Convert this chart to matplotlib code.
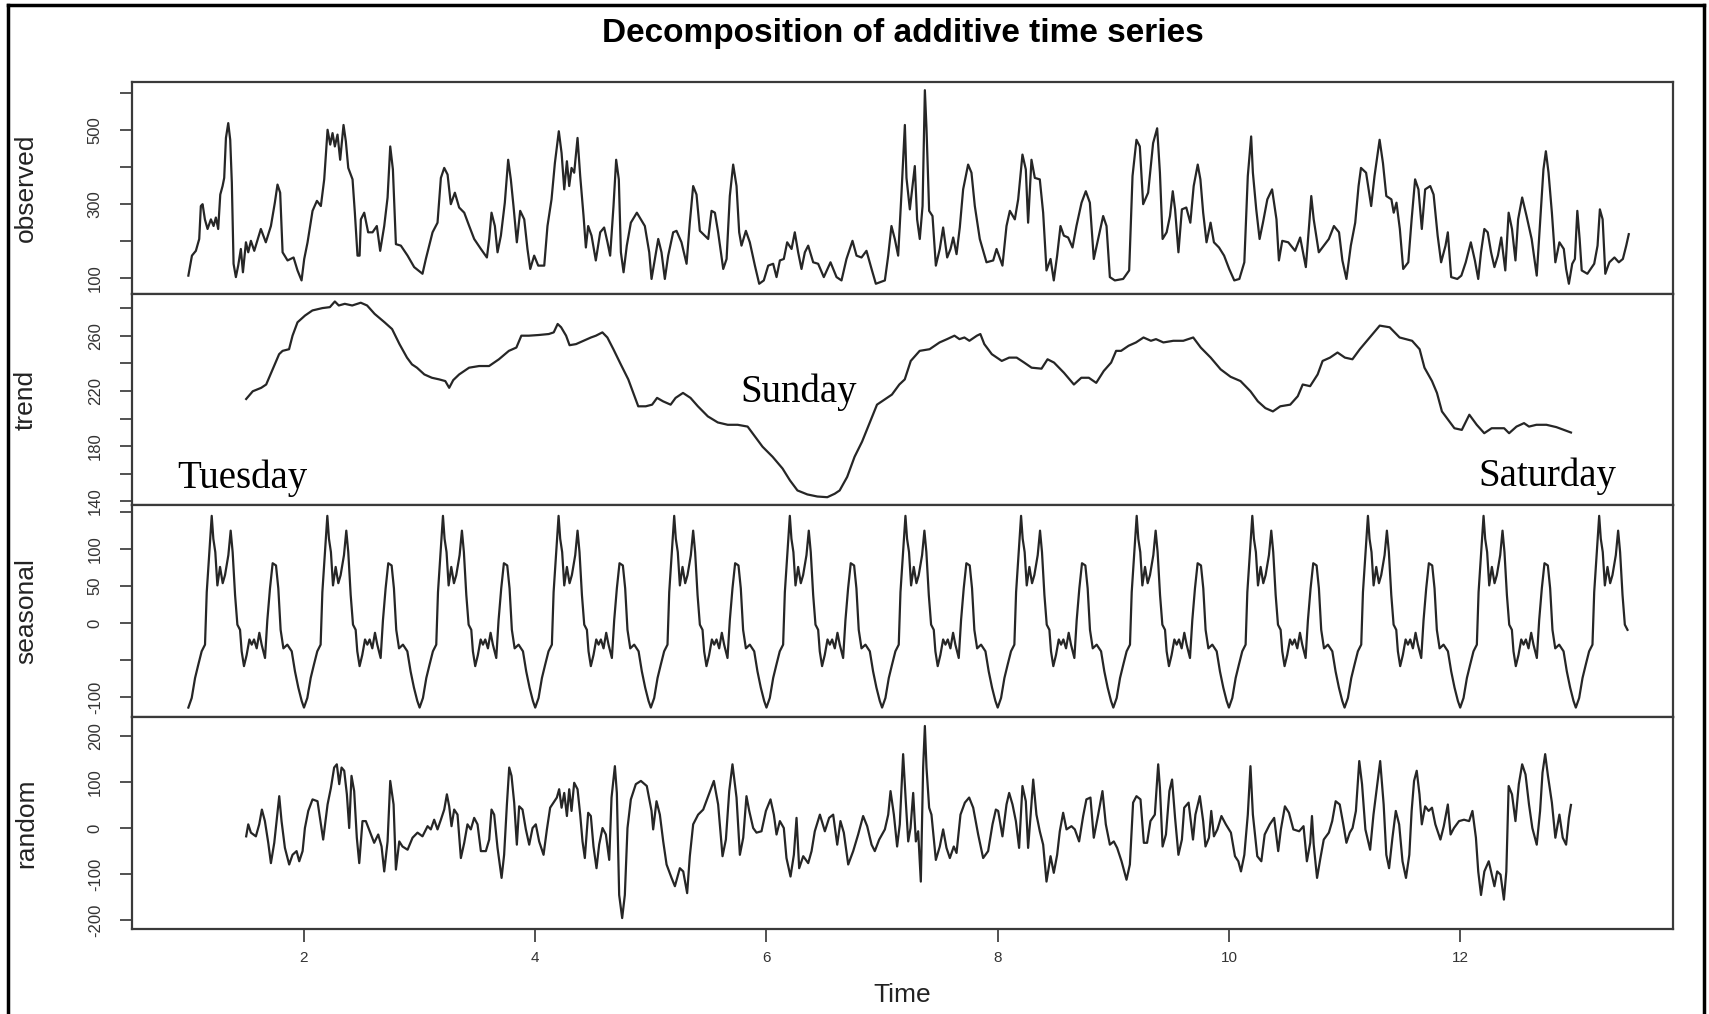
import numpy as np
import matplotlib.pyplot as plt
from matplotlib.lines import Line2D

# values: (time, value) vertices of each line
obs_points = [
    (1.000, 106), (1.031, 160), (1.065, 173), (1.094, 205), (1.108, 294), (1.123, 299), (1.143, 258),
    (1.166, 232), (1.195, 258), (1.218, 240), (1.238, 263), (1.258, 232), (1.276, 325), (1.296, 348),
    (1.310, 370), (1.325, 478), (1.345, 518), (1.362, 473), (1.376, 357), (1.391, 138), (1.411, 102),
    (1.431, 133), (1.454, 178), (1.472, 115), (1.498, 196), (1.518, 169), (1.541, 200), (1.570, 173),
    (1.627, 232), (1.670, 196), (1.714, 240), (1.748, 303), (1.771, 352), (1.794, 330), (1.815, 169),
    (1.858, 147), (1.910, 155), (1.944, 120), (1.979, 93), (2.002, 151), (2.031, 196), (2.074, 281),
    (2.112, 308), (2.146, 294), (2.175, 366), (2.204, 500), (2.227, 460), (2.247, 491), (2.267, 455),
    (2.290, 487), (2.313, 419), (2.342, 513), (2.362, 469), (2.383, 397), (2.420, 366), (2.440, 276),
    (2.463, 160), (2.481, 160), (2.492, 258), (2.521, 276), (2.555, 223), (2.593, 223), (2.630, 240),
    (2.659, 173), (2.694, 240), (2.723, 317), (2.746, 455), (2.769, 393), (2.795, 191), (2.838, 187),
    (2.896, 160), (2.953, 129), (3.025, 111), (3.054, 151), (3.112, 223), (3.155, 249), (3.184, 370),
    (3.213, 397), (3.242, 379), (3.270, 299), (3.305, 330), (3.342, 290), (3.386, 276), (3.429, 240),
    (3.472, 205), (3.530, 178), (3.582, 155), (3.602, 205), (3.622, 276), (3.651, 240), (3.674, 169),
    (3.703, 214), (3.737, 303), (3.766, 419), (3.789, 366), (3.812, 294), (3.841, 196), (3.870, 281),
    (3.905, 258), (3.933, 178), (3.957, 124), (3.991, 160), (4.026, 133), (4.078, 133), (4.106, 240),
    (4.141, 312), (4.170, 410), (4.204, 496), (4.228, 437), (4.251, 339), (4.274, 415), (4.294, 348),
    (4.314, 397), (4.337, 384), (4.366, 478), (4.389, 375), (4.418, 267), (4.438, 182), (4.458, 240),
    (4.487, 214), (4.524, 147), (4.562, 223), (4.596, 236), (4.625, 196), (4.648, 160), (4.677, 294),
    (4.700, 419), (4.723, 366), (4.741, 169), (4.764, 115), (4.792, 187), (4.827, 249), (4.879, 276),
    (4.948, 240), (4.986, 169), (5.006, 97), (5.035, 151), (5.064, 205), (5.092, 169), (5.121, 97),
    (5.150, 160), (5.193, 223), (5.222, 227), (5.265, 196), (5.309, 138), (5.337, 249), (5.366, 348),
    (5.395, 325), (5.424, 227), (5.467, 214), (5.496, 205), (5.525, 281), (5.554, 276), (5.582, 223),
    (5.626, 124), (5.655, 151), (5.683, 321), (5.712, 406), (5.741, 348), (5.764, 223), (5.784, 187),
    (5.822, 227), (5.856, 196), (5.900, 133), (5.937, 84), (5.977, 93), (6.015, 133), (6.058, 138),
    (6.087, 102), (6.116, 147), (6.150, 151), (6.179, 196), (6.217, 178), (6.245, 223), (6.274, 169),
    (6.303, 124), (6.332, 169), (6.361, 187), (6.404, 142), (6.447, 138), (6.496, 102), (6.554, 142),
    (6.606, 102), (6.649, 93), (6.692, 151), (6.744, 200), (6.779, 160), (6.822, 155), (6.865, 173),
    (6.909, 124), (6.946, 84), (7.024, 93), (7.053, 160), (7.081, 240), (7.110, 205), (7.139, 160),
    (7.168, 330), (7.197, 513), (7.211, 370), (7.240, 285), (7.263, 348), (7.283, 402), (7.303, 258),
    (7.326, 205), (7.350, 294), (7.370, 607), (7.384, 504), (7.407, 281), (7.436, 267), (7.465, 133),
    (7.499, 178), (7.528, 236), (7.563, 155), (7.592, 178), (7.615, 209), (7.644, 164), (7.672, 236),
    (7.701, 339), (7.744, 406), (7.773, 384), (7.802, 294), (7.845, 205), (7.903, 142), (7.961, 147),
    (7.990, 178), (8.041, 133), (8.076, 240), (8.105, 281), (8.148, 258), (8.177, 312), (8.214, 433),
    (8.243, 393), (8.263, 249), (8.292, 419), (8.321, 370), (8.364, 366), (8.393, 276), (8.422, 120),
    (8.457, 151), (8.485, 93), (8.514, 160), (8.543, 240), (8.572, 214), (8.609, 209), (8.647, 182),
    (8.681, 240), (8.725, 303), (8.762, 334), (8.797, 303), (8.831, 151), (8.869, 205), (8.912, 267),
    (8.941, 240), (8.970, 102), (9.013, 93), (9.085, 97), (9.137, 120), (9.166, 375), (9.200, 473),
    (9.229, 455), (9.258, 299), (9.301, 330), (9.344, 464), (9.379, 504), (9.403, 384), (9.426, 205),
    (9.461, 223), (9.490, 267), (9.514, 334), (9.534, 285), (9.563, 169), (9.593, 285), (9.631, 290),
    (9.666, 249), (9.695, 348), (9.730, 406), (9.753, 366), (9.777, 276), (9.806, 196), (9.841, 249),
    (9.870, 196), (9.914, 182), (9.958, 160), (10.002, 124), (10.046, 93), (10.090, 97), (10.133, 142),
    (10.163, 375), (10.192, 482), (10.207, 384), (10.236, 285), (10.265, 205), (10.294, 249),
    (10.332, 312), (10.373, 339), (10.411, 258), (10.432, 147), (10.461, 200), (10.513, 196),
    (10.572, 173), (10.616, 209), (10.665, 129), (10.695, 249), (10.712, 321), (10.733, 258),
    (10.777, 169), (10.820, 187), (10.864, 205), (10.908, 240), (10.952, 223), (10.981, 147),
    (11.016, 97), (11.054, 187), (11.092, 249), (11.121, 348), (11.142, 397), (11.186, 384),
    (11.230, 294), (11.259, 375), (11.303, 473), (11.332, 410), (11.361, 321), (11.405, 312),
    (11.425, 276), (11.449, 303), (11.478, 232), (11.507, 124), (11.551, 142), (11.580, 258),
    (11.610, 366), (11.639, 339), (11.668, 232), (11.697, 339), (11.741, 348), (11.770, 325),
    (11.805, 214), (11.835, 142), (11.873, 187), (11.893, 223), (11.922, 102), (11.975, 97),
    (12.010, 106), (12.048, 142), (12.092, 196), (12.127, 147), (12.156, 97), (12.180, 169),
    (12.209, 232), (12.238, 223), (12.267, 169), (12.296, 129), (12.326, 160), (12.355, 209),
    (12.390, 120), (12.419, 276), (12.448, 232), (12.478, 147), (12.501, 258), (12.536, 317),
    (12.574, 267), (12.618, 205), (12.662, 106), (12.700, 294), (12.720, 393), (12.741, 442),
    (12.764, 384), (12.793, 276), (12.823, 142), (12.858, 196), (12.896, 178), (12.916, 124),
    (12.940, 84), (12.969, 138), (12.992, 151), (13.013, 281), (13.033, 205), (13.051, 120),
    (13.100, 111), (13.159, 138), (13.188, 187), (13.208, 285), (13.232, 258), (13.255, 111),
    (13.290, 142), (13.334, 155), (13.372, 142), (13.407, 151), (13.436, 187), (13.458, 218),
]

trend_points = [
    (1.500, 214.2), (1.557, 219.8), (1.630, 222.3), (1.673, 224.7), (1.729, 235.7), (1.785, 246.7),
    (1.815, 249.1), (1.871, 250.3), (1.901, 260.1), (1.944, 269.8), (2.009, 274.7), (2.073, 278.4),
    (2.159, 280.1), (2.224, 280.8), (2.267, 284.9), (2.301, 282.0), (2.353, 283.2), (2.417, 282.0),
    (2.491, 284.0), (2.546, 282.0), (2.611, 275.9), (2.697, 269.8), (2.762, 264.9), (2.826, 254.0),
    (2.891, 244.2), (2.934, 239.3), (2.977, 236.9), (3.041, 232.0), (3.106, 229.6), (3.170, 228.4),
    (3.222, 227.2), (3.256, 222.3), (3.291, 227.9), (3.342, 232.0), (3.428, 236.9), (3.515, 238.1),
    (3.601, 238.1), (3.686, 243.0), (3.772, 249.1), (3.837, 251.5), (3.880, 260.1), (3.945, 260.1),
    (4.031, 260.6), (4.117, 261.3), (4.160, 262.5), (4.194, 268.6), (4.224, 266.2), (4.267, 260.1),
    (4.297, 253.2), (4.353, 254.0), (4.418, 256.4), (4.482, 258.8), (4.525, 260.1), (4.581, 262.5),
    (4.624, 258.8), (4.676, 250.3), (4.740, 239.3), (4.805, 228.4), (4.848, 218.6), (4.891, 208.9),
    (4.956, 208.9), (5.011, 210.1), (5.054, 215.0), (5.106, 212.5), (5.171, 210.1), (5.214, 215.0),
    (5.278, 218.6), (5.343, 215.0), (5.407, 208.9), (5.493, 201.6), (5.579, 197.2), (5.665, 195.5),
    (5.751, 195.5), (5.837, 194.2), (5.902, 186.9), (5.966, 179.6), (6.053, 172.3), (6.139, 163.8),
    (6.203, 155.2), (6.268, 147.9), (6.354, 145.0), (6.440, 143.5), (6.526, 143.0), (6.590, 145.5),
    (6.633, 147.9), (6.698, 157.7), (6.762, 172.3), (6.827, 183.3), (6.891, 196.7), (6.956, 210.1),
    (7.020, 213.7), (7.085, 217.4), (7.149, 224.7), (7.196, 228.4), (7.248, 241.8), (7.325, 249.1),
    (7.411, 250.3), (7.497, 255.2), (7.562, 257.6), (7.626, 260.1), (7.669, 257.6), (7.712, 258.8),
    (7.755, 256.4), (7.820, 260.1), (7.850, 261.3), (7.884, 254.0), (7.949, 246.7), (8.035, 241.8),
    (8.099, 244.2), (8.164, 244.2), (8.229, 240.6), (8.293, 236.9), (8.379, 236.2), (8.431, 243.0),
    (8.487, 240.6), (8.573, 233.2), (8.659, 224.7), (8.723, 229.6), (8.788, 229.6), (8.852, 225.9),
    (8.917, 234.5), (8.981, 240.6), (9.024, 249.1), (9.067, 249.1), (9.132, 252.8), (9.196, 255.2),
    (9.261, 258.8), (9.325, 256.4), (9.369, 257.6), (9.433, 255.2), (9.519, 256.4), (9.605, 256.4),
    (9.691, 258.8), (9.756, 251.5), (9.842, 244.2), (9.928, 235.7), (10.014, 230.3), (10.100, 227.2),
    (10.186, 219.8), (10.250, 212.5), (10.315, 207.6), (10.380, 205.2), (10.444, 208.9), (10.530, 210.1),
    (10.595, 216.2), (10.638, 224.7), (10.702, 223.5), (10.767, 232.0), (10.810, 241.8), (10.874, 244.2),
    (10.939, 247.9), (11.003, 244.2), (11.068, 243.0), (11.132, 250.3), (11.218, 258.8), (11.304, 267.4),
    (11.390, 266.2), (11.476, 258.8), (11.584, 256.4), (11.649, 250.3), (11.691, 236.9), (11.756, 227.2),
    (11.799, 218.6), (11.842, 205.2), (11.885, 200.3), (11.950, 193.0), (12.014, 191.8), (12.079, 202.8),
    (12.143, 195.5), (12.208, 189.4), (12.272, 193.0), (12.380, 193.0), (12.423, 189.4), (12.487, 194.2),
    (12.552, 196.7), (12.595, 194.2), (12.659, 195.5), (12.746, 195.5), (12.832, 193.8), (12.896, 191.8),
    (12.958, 189.9),
]

# one day of the seasonal figure: (fraction of the day, value); it repeats every day
season_day_points = [
    (0.000, -114), (0.029, -101), (0.058, -74), (0.086, -56), (0.115, -38), (0.144, -29), (0.159, 42),
    (0.182, 96), (0.202, 145), (0.216, 114), (0.233, 96), (0.251, 51), (0.274, 76), (0.297, 54),
    (0.317, 65), (0.346, 92), (0.366, 125), (0.383, 96), (0.404, 38), (0.424, -2), (0.447, -9),
    (0.461, -38), (0.481, -58), (0.504, -43), (0.528, -22), (0.548, -29), (0.568, -22), (0.591, -34),
    (0.614, -13), (0.634, -29), (0.663, -47), (0.683, 4), (0.706, 47), (0.729, 81), (0.758, 78),
    (0.778, 47), (0.798, -9), (0.822, -34), (0.856, -29), (0.894, -38), (0.922, -65), (0.951, -87),
    (0.980, -105),
]

random_points = [
    (1.500, -18), (1.518, 8), (1.541, -10), (1.584, -18), (1.613, 8), (1.636, 40), (1.662, 15),
    (1.691, -32), (1.714, -76), (1.743, -32), (1.763, 15), (1.786, 69), (1.806, 15), (1.835, -43),
    (1.872, -79), (1.901, -58), (1.936, -50), (1.959, -72), (1.988, -50), (2.008, 0), (2.037, 37),
    (2.074, 62), (2.117, 58), (2.146, 8), (2.166, -25), (2.204, 51), (2.233, 87), (2.261, 131),
    (2.284, 138), (2.305, 95), (2.325, 131), (2.348, 124), (2.371, 73), (2.391, 0), (2.411, 113),
    (2.434, 80), (2.457, -21), (2.478, -76), (2.506, 15), (2.535, 15), (2.573, -10), (2.607, -32),
    (2.642, -14), (2.671, -40), (2.694, -94), (2.723, -29), (2.746, 102), (2.775, 51), (2.795, -90),
    (2.824, -29), (2.852, -40), (2.896, -47), (2.939, -21), (2.982, -10), (3.025, -18), (3.069, 4),
    (3.097, -3), (3.126, 18), (3.155, -3), (3.184, 18), (3.213, 40), (3.236, 73), (3.256, 47),
    (3.276, 4), (3.299, 40), (3.328, 29), (3.357, -65), (3.386, -32), (3.414, 8), (3.443, -3),
    (3.472, 22), (3.501, 8), (3.530, -50), (3.573, -50), (3.602, -25), (3.622, 40), (3.645, 29),
    (3.674, -43), (3.709, -108), (3.731, -58), (3.755, 51), (3.775, 131), (3.795, 113), (3.818, 55),
    (3.841, -36), (3.861, 47), (3.890, 40), (3.919, -3), (3.948, -36), (3.977, 0), (4.005, 8),
    (4.034, -29), (4.072, -58), (4.101, -3), (4.129, 44), (4.158, 55), (4.187, 66), (4.207, 84),
    (4.228, 44), (4.251, 76), (4.274, 26), (4.294, 84), (4.314, 37), (4.337, 98), (4.366, 84),
    (4.389, 29), (4.409, -29), (4.429, -65), (4.458, 33), (4.481, 26), (4.504, -40), (4.530, -87),
    (4.553, -36), (4.582, 0), (4.611, -14), (4.640, -69), (4.660, 66), (4.689, 134), (4.706, 76),
    (4.726, -145), (4.752, -195), (4.775, -145), (4.798, 0), (4.827, 62), (4.870, 95), (4.914, 102),
    (4.965, 91), (5.006, 37), (5.020, -3), (5.049, 58), (5.078, 29), (5.107, -29), (5.136, -79),
    (5.179, -108), (5.208, -126), (5.251, -87), (5.280, -94), (5.314, -141), (5.337, -61), (5.366, 8),
    (5.409, 29), (5.453, 40), (5.496, 69), (5.545, 102), (5.582, 51), (5.620, -61), (5.649, -25),
    (5.678, 80), (5.706, 138), (5.741, 66), (5.770, -58), (5.799, -21), (5.827, 69), (5.851, 37),
    (5.885, 0), (5.914, -10), (5.957, -7), (5.995, 37), (6.035, 62), (6.064, 29), (6.087, -14),
    (6.116, 15), (6.150, 0), (6.173, -65), (6.208, -105), (6.237, -58), (6.260, 22), (6.283, -87),
    (6.318, -61), (6.361, -76), (6.390, -50), (6.418, -7), (6.462, 29), (6.505, -7), (6.542, 22),
    (6.577, 29), (6.612, -36), (6.640, 15), (6.669, -10), (6.707, -79), (6.750, -50), (6.793, -14),
    (6.836, 26), (6.871, 4), (6.909, -36), (6.937, -50), (6.975, -25), (7.024, -3), (7.053, 29),
    (7.073, 80), (7.102, 29), (7.130, -40), (7.153, 8), (7.182, 160), (7.205, 58), (7.226, -29),
    (7.246, 0), (7.269, 76), (7.292, -29), (7.312, -7), (7.335, -116), (7.355, 131), (7.370, 221),
    (7.384, 131), (7.407, 44), (7.427, 29), (7.465, -69), (7.499, -40), (7.528, -3), (7.557, -43),
    (7.586, -65), (7.620, -40), (7.644, -54), (7.678, 29), (7.716, 55), (7.753, 66), (7.788, 44),
    (7.831, -14), (7.874, -65), (7.917, -50), (7.955, 8), (7.984, 40), (8.004, 37), (8.041, -18),
    (8.076, 51), (8.099, 76), (8.128, 51), (8.157, 15), (8.185, -43), (8.214, 91), (8.243, 58),
    (8.263, -43), (8.284, 26), (8.307, 105), (8.335, 29), (8.364, -7), (8.393, -36), (8.422, -116),
    (8.457, -61), (8.485, -97), (8.514, -58), (8.537, -7), (8.566, 33), (8.595, -3), (8.638, 4),
    (8.667, -3), (8.704, -29), (8.739, 26), (8.767, 62), (8.802, 66), (8.831, -21), (8.869, 29),
    (8.906, 80), (8.935, 8), (8.970, -36), (9.004, -29), (9.033, -43), (9.071, -72), (9.114, -112),
    (9.143, -79), (9.171, 55), (9.200, 69), (9.235, 62), (9.264, -32), (9.292, -32), (9.321, 15),
    (9.359, 29), (9.388, 138), (9.403, 87), (9.426, -40), (9.455, -14), (9.485, 80), (9.508, 105),
    (9.534, 22), (9.563, -58), (9.593, -25), (9.613, 44), (9.651, 55), (9.689, -25), (9.710, 29),
    (9.748, 69), (9.777, 15), (9.797, -40), (9.827, -21), (9.847, 37), (9.870, -18), (9.900, -3),
    (9.935, 26), (9.973, 8), (10.017, -10), (10.052, -61), (10.081, -72), (10.104, -94), (10.133, -58),
    (10.163, 29), (10.186, 134), (10.207, 29), (10.245, -61), (10.280, -72), (10.309, -14), (10.353, 8),
    (10.391, 22), (10.426, -50), (10.449, -3), (10.484, 47), (10.519, 33), (10.557, -3), (10.607, -7),
    (10.645, 4), (10.674, -72), (10.703, -32), (10.718, 26), (10.733, -36), (10.762, -108),
    (10.791, -65), (10.820, -25), (10.864, -10), (10.893, 15), (10.923, 58), (10.958, 51), (10.987, 11),
    (11.016, -32), (11.045, -10), (11.069, 0), (11.098, 37), (11.127, 145), (11.151, 95), (11.180, -3),
    (11.221, -47), (11.250, 29), (11.279, 87), (11.308, 145), (11.338, 51), (11.361, -58), (11.385, -87),
    (11.414, -21), (11.443, 37), (11.472, 8), (11.501, -72), (11.531, -108), (11.560, -58), (11.580, 37),
    (11.601, 102), (11.624, 124), (11.648, 73), (11.668, 8), (11.697, 47), (11.727, 37), (11.756, 44),
    (11.785, 8), (11.829, -25), (11.858, 4), (11.893, 51), (11.917, -14), (11.946, 0), (11.990, 15),
    (12.033, 18), (12.077, 15), (12.106, 37), (12.136, -21), (12.156, -94), (12.180, -145), (12.209, -94),
    (12.247, -72), (12.273, -101), (12.296, -126), (12.320, -94), (12.349, -101), (12.378, -155),
    (12.399, -94), (12.419, 91), (12.448, 73), (12.478, 15), (12.507, 95), (12.536, 138), (12.565, 116),
    (12.595, 51), (12.624, 0), (12.662, -36), (12.691, 37), (12.712, 120), (12.735, 160), (12.759, 113),
    (12.793, 55), (12.823, -21), (12.858, 29), (12.887, -21), (12.916, -36), (12.940, 22), (12.958, 50),
]

day_names = ["Tuesday", "Sunday", "Saturday"]
day_pos = [(1.47, 157), (6.28, 219), (12.75, 158)]

panel_names = ["observed", "trend", "seasonal", "random"]
panel_ylims = [(57, 629), (137, 290.5), (-127, 159), (-218.5, 240)]
panel_ticks = [
    [100, 200, 300, 400, 500, 600],
    [140, 160, 180, 200, 220, 240, 260, 280],
    [-100, -50, 0, 50, 100, 150],
    [-200, -100, 0, 100, 200],
]
panel_ticklabels = [
    ["100", "", "300", "", "500", ""],
    ["140", "", "180", "", "220", "", "260", ""],
    ["-100", "", "0", "50", "100", ""],
    ["-200", "-100", "0", "100", "200"],
]
x_ticks = [2, 4, 6, 8, 10, 12]
t_start, t_end = 1.0, 13.458

# seasonal line: the one-day shape laid end to end over the whole span
s_phase, s_val = np.array(season_day_points).T
season_t, season_v = [], []
for day in range(1, 14):
    for ph, val in zip(s_phase, s_val):
        if day + ph <= t_end + 1e-9:
            season_t.append(day + ph)
            season_v.append(val)

series = [
    np.array(obs_points).T,
    np.array(trend_points).T,
    np.array([season_t, season_v]),
    np.array(random_points).T,
]

fig = plt.figure(figsize=(17.09, 10.14), dpi=100)
left, width = 0.0772, 0.9017
top, height = 0.9191, 0.2088
axes = []
for i in range(4):
    ax = fig.add_axes([left, top - (i + 1) * height, width, height])
    t, v = series[i]
    ax.plot(t, v, color="#262626", lw=1.6)
    ax.set_xlim(0.512, 13.84)
    ax.set_ylim(*panel_ylims[i])
    ax.set_yticks(panel_ticks[i])
    ax.set_yticklabels(panel_ticklabels[i], rotation=90, va="center",
                       fontsize=12, color="#333333", family="Liberation Sans")
    ax.tick_params(axis="y", length=9, width=1.2, color="#333333", pad=12)
    ax.set_ylabel(panel_names[i], fontsize=19, color="#222222", family="Liberation Sans")
    ax.yaxis.set_label_coords(-0.061, 0.5)
    for sp in ax.spines.values():
        sp.set_color("#3a3a3a")
        sp.set_linewidth(1.6)
    if i < 3:
        ax.tick_params(axis="x", bottom=False, labelbottom=False)
    axes.append(ax)

ax_b = axes[-1]
ax_b.set_xticks(x_ticks)
ax_b.set_xticklabels([str(x) for x in x_ticks], fontsize=11, color="#333333",
                     family="Liberation Sans")
ax_b.tick_params(axis="x", length=9, width=1.2, color="#333333", pad=7)
ax_b.set_xlabel("Time", fontsize=19, color="#222222", family="Liberation Sans")
ax_b.xaxis.set_label_coords(0.5, -0.255)

# day annotations on the trend panel
for name, (tx, ty) in zip(day_names, day_pos):
    axes[1].text(tx, ty, name, fontsize=28, family="Liberation Serif",
                 ha="center", va="center", color="black")

fig.suptitle("Decomposition of additive time series", x=0.5285, y=0.967,
             fontsize=24, fontweight="bold", family="Liberation Sans", va="center")

# outer frame of the picture
for xs, ys in [([0.0047, 0.0047], [0.0, 0.995]), ([0.0047, 0.997], [0.995, 0.995]),
               ([0.997, 0.997], [0.0, 0.995])]:
    fig.add_artist(Line2D(xs, ys, color="black", lw=2.5, transform=fig.transFigure))

fig.savefig("out.png", dpi=100)
